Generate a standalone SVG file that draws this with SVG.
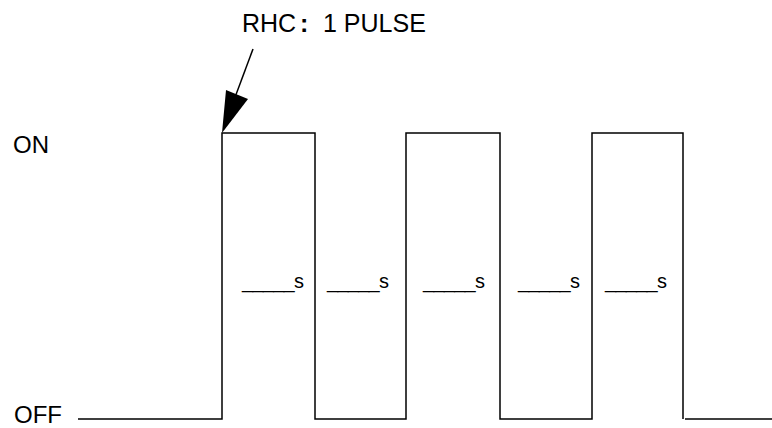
<svg xmlns="http://www.w3.org/2000/svg" width="772" height="428" viewBox="0 0 772 428">
<style>
.t{font-family:"Liberation Sans","Noto Sans CJK SC",Arial,sans-serif;fill:#000}
.w{fill:none;stroke:#000;stroke-width:1.5}
.d{font-size:20px}
</style>
<rect width="772" height="428" fill="#fff"/>
<g id="axis-labels">
<text class="t" x="13" y="153" font-size="24">ON</text>
<text class="t" x="14" y="423" font-size="24">OFF</text>
</g>
<g id="waveform">
<polyline class="w" points="78,419 222,419 222,133 315,133 315,419 406,419 406,133 500,133 500,419 592,419 592,133 683,133 683,419"/>
<line class="w" x1="685" y1="419" x2="772" y2="419"/>
</g>
<g id="durations" class="t d">
<text x="242" y="288" textLength="62">_____s</text>
<text x="327" y="288" textLength="62">_____s</text>
<text x="423" y="288" textLength="62">_____s</text>
<text x="518" y="288" textLength="62">_____s</text>
<text x="605" y="288" textLength="62">_____s</text>
</g>
<g id="callout">
<text class="t" x="242" y="32" font-size="25">RHC<tspan x="300" font-weight="bold">:</tspan><tspan x="323">1 PULSE</tspan></text>
</g>
<g id="connectors">
<line x1="253" y1="49" x2="234" y2="100" stroke="#000" stroke-width="1.5"/>
<polygon points="222,133 226,90 248,99" fill="#000"/>
</g>
</svg>
